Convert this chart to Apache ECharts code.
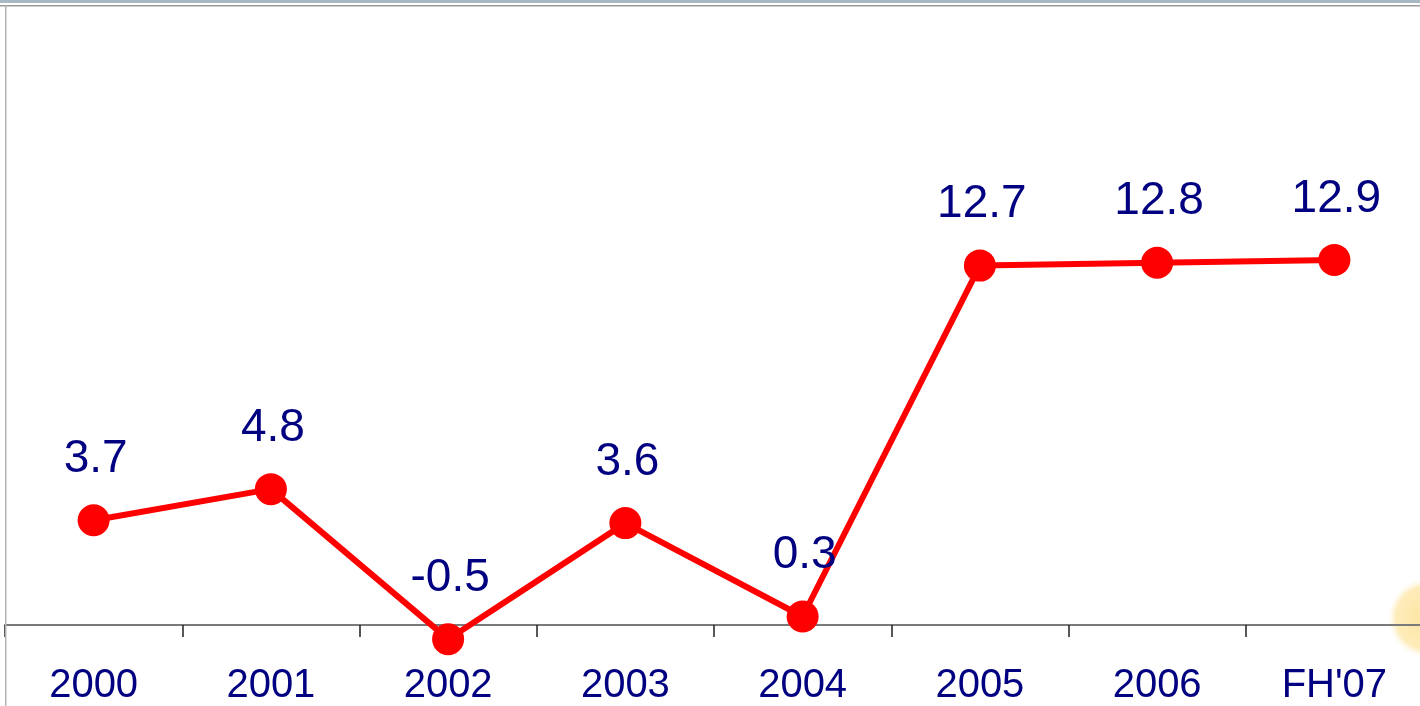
<!DOCTYPE html>
<html>
<head>
<meta charset="utf-8">
<style>
html,body{margin:0;padding:0;background:#fff;}
#chart{width:1420px;height:706px;}
</style>
<script src="https://cdn.jsdelivr.net/npm/echarts@6/dist/echarts.min.js"></script>
</head>
<body>
<div id="chart"></div>
<script>
var categories = ['2000', '2001', '2002', '2003', '2004', '2005', '2006', "FH'07"];
var values = [3.7, 4.8, -0.5, 3.6, 0.3, 12.7, 12.8, 12.9];

var chart = echarts.init(document.getElementById('chart'));
chart.setOption({
  animation: false,
  backgroundColor: '#ffffff',
  grid: { left: 5, top: 2.4, width: 1418, height: 622.6, containLabel: false, outerBoundsMode: 'none' },
  xAxis: {
    type: 'category',
    data: categories,
    boundaryGap: true,
    axisLine: { show: true, onZero: false, lineStyle: { color: '#7a7a7a', width: 2 } },
    axisTick: { show: true, length: 12, lineStyle: { color: '#202020', width: 1.5 } },
    axisLabel: {
      color: '#000080', fontSize: 40, fontFamily: 'Liberation Sans, Arial, sans-serif',
      margin: 41, interval: 0
    },
    splitLine: { show: false }
  },
  yAxis: {
    type: 'value',
    min: 0, max: 22, interval: 1,
    axisLine: { show: false },
    axisTick: { show: false },
    axisLabel: { show: false },
    splitLine: { show: false }
  },
  graphic: [
    { type: 'rect', shape: { x: 0, y: 0, width: 1420, height: 3 }, style: { fill: '#a9b9c3' }, z: 10 },
    { type: 'rect', shape: { x: 0, y: 5, width: 1420, height: 1.5 }, style: { fill: '#9a9a9a' }, z: 10 },
    { type: 'rect', shape: { x: 5, y: 5, width: 1.5, height: 701 }, style: { fill: '#b4b4b4' }, z: 10 },
    { type: 'circle', shape: { cx: 1428, cy: 618, r: 40 },
      style: { fill: { type: 'radial', x: 0.5, y: 0.5, r: 0.5,
        colorStops: [{ offset: 0, color: 'rgba(253,220,130,0.8)' }, { offset: 0.8, color: 'rgba(253,226,150,0.65)' }, { offset: 1, color: 'rgba(255,240,200,0.0)' }] } }, z: 0 }
  ],
  series: [{
    type: 'line',
    data: values,
    clip: false,
    symbol: 'circle',
    symbolSize: 32,
    itemStyle: { color: '#ff0000' },
    lineStyle: { color: '#ff0000', width: 6 },
    label: {
      show: true,
      position: 'top',
      distance: 22,
      offset: [2, 0],
      color: '#000080',
      fontSize: 46,
      fontFamily: 'Liberation Sans, Arial, sans-serif'
    },
    z: 5
  }]
});
</script>
</body>
</html>
